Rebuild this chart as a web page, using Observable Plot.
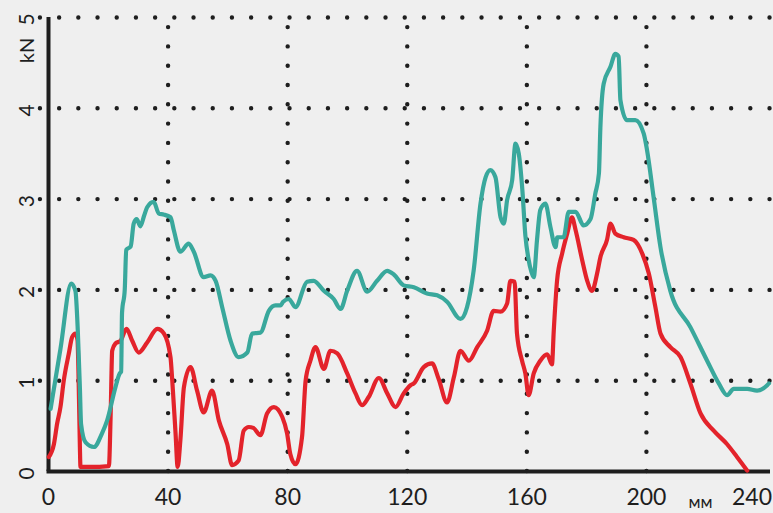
<!DOCTYPE html>
<html>
<head>
<meta charset="utf-8">
<script src="https://cdn.jsdelivr.net/npm/d3@7"></script>
<script src="https://cdn.jsdelivr.net/npm/@observablehq/plot@0.6"></script>
<style>
  html, body { margin: 0; padding: 0; background: #efefef; }
  #chart svg { display: block; }
</style>
</head>
<body>
<div id="chart"></div>
<script>
// distance (mm) and force (kN) for the two curves
const tealMm = [0.7,4,7.6,9,9.8,10.5,10.9,12.4,15.2,17.9,19.6,22.4,23.8,24.3,24.6,25.5,26,27.5,28.5,29.5,30.7,32,33,35.2,36.9,38.5,40.8,41.9,44.1,46.9,48.6,51.9,54.2,55.9,58.1,60.9,63.6,66.5,68.1,70.9,73.7,75.9,77.6,78.5,80.4,82.6,86.5,88.7,92.1,95.4,97.7,99.9,103.2,106.6,109.9,113.3,115.5,118.8,122.2,126.6,130,133.3,137.8,140,142.2,144.5,146.2,147.8,149.5,151.2,152.3,153.4,155.1,156.2,157.3,158.5,159.5,160.5,161.5,162.3,163.4,164.5,166.2,167.9,169.6,170.2,172.3,174,176.3,179,181.3,182.9,184.1,184.6,185.7,188,189.6,190.7,191.3,193.5,196.3,199.1,200.2,202.4,204.7,208,214.7,220.3,224.2,227,229.2,233.7,237,240.4,241];
const tealKN = [0.69,1.35,2.07,1.99,1.55,0.92,0.52,0.32,0.27,0.42,0.56,0.93,1.08,1.1,1.75,2.0,2.44,2.48,2.73,2.78,2.7,2.82,2.91,2.97,2.84,2.83,2.8,2.66,2.42,2.51,2.42,2.14,2.16,2.1,1.81,1.44,1.26,1.31,1.52,1.53,1.77,1.83,1.83,1.87,1.9,1.81,2.09,2.1,1.99,1.9,1.79,1.99,2.21,1.98,2.1,2.21,2.17,2.05,2.03,1.96,1.94,1.87,1.68,1.81,2.21,2.95,3.24,3.32,3.24,2.8,2.73,2.99,3.21,3.61,3.5,3.1,2.6,2.35,2.2,2.14,2.55,2.88,2.95,2.69,2.47,2.58,2.58,2.86,2.86,2.71,2.78,3.06,3.28,3.79,4.27,4.46,4.6,4.57,4.09,3.87,3.87,3.72,3.54,3.02,2.47,1.99,1.59,1.22,0.97,0.84,0.91,0.91,0.89,0.95,0.97];

const redMm = [0.1,1.8,2.9,4,5.1,6.8,7.9,9,9.7,10.2,10.5,10.7,14,20.2,20.8,21.3,22.4,24.1,26.1,28,30.2,33,36.4,38.6,40.8,41.4,42.5,43.2,44.1,45.3,47.5,49.7,51.9,54.7,57,59.8,61.4,63.6,65.3,67,68.5,70.9,73.1,75.4,78.2,79.8,80.9,82.6,84.8,86,87.6,89.3,92.1,94.3,96.6,99.9,102.7,104.9,107.1,110.5,113.3,116.1,118.8,121.1,122.2,125.5,128.3,130.5,133.3,135.6,137.8,140.6,143.4,146.7,148.9,151.2,153.4,154.5,155.9,156.7,158.4,159.5,160.6,162.3,164.5,166.8,168.4,169,170.1,171.8,173.5,175.1,176.3,178.5,180.2,181.8,183.5,184.6,186.8,188,189.6,192.4,195.7,198.6,200.8,203,204.7,208,211.4,214.7,218.1,222.5,227,230.3,233.7];
const redKN = [0.16,0.3,0.53,0.71,1.0,1.3,1.48,1.52,1.45,0.8,0.27,0.05,0.05,0.06,0.64,1.33,1.41,1.44,1.57,1.44,1.31,1.42,1.57,1.52,1.26,1.0,0.42,0.05,0.34,0.93,1.15,0.89,0.65,0.89,0.56,0.3,0.07,0.12,0.45,0.49,0.48,0.4,0.64,0.71,0.6,0.42,0.19,0.08,0.38,1.0,1.22,1.37,1.13,1.33,1.3,1.08,0.86,0.73,0.82,1.03,0.86,0.71,0.86,0.95,0.97,1.15,1.19,1.02,0.76,1.04,1.33,1.22,1.37,1.55,1.77,1.76,1.85,2.1,2.09,1.52,1.22,1.08,0.84,1.08,1.22,1.29,1.18,1.55,2.1,2.4,2.62,2.8,2.66,2.33,2.1,1.99,2.18,2.36,2.55,2.73,2.62,2.58,2.55,2.4,2.18,1.81,1.52,1.37,1.26,0.97,0.64,0.45,0.3,0.16,0.01];

const xTicks = [0, 40, 80, 120, 160, 200, 240];
const yTicks = [0, 1, 2, 3, 4, 5];
const xGrid = [40, 80, 120, 160, 200];
const yGrid = [1, 2, 3, 4, 5];
const xUnit = "мм";
const yUnit = "kN";

const teal = tealMm.map((x, i) => ({x, y: tealKN[i]}));
const red = redMm.map((x, i) => ({x, y: redKN[i]}));

const FONT = "Lato, 'Open Sans', sans-serif";
const INK = "#1e1e1e";

const chart = Plot.plot({
  width: 773,
  height: 513,
  marginLeft: 48,
  marginRight: 3,
  marginTop: 17,
  marginBottom: 42,
  style: {background: "#efefef", fontFamily: FONT, color: INK, overflow: "visible"},
  x: {domain: [0, 241.5], axis: null},
  y: {domain: [0, 5], axis: null},
  marks: [
    // dotted grid
    Plot.ruleY(yGrid, {y: d => d, x1: -2.7, x2: 241.5, stroke: INK, strokeWidth: 4.4, strokeDasharray: "0 19.2", strokeLinecap: "round"}),
    Plot.ruleX(xGrid, {x: d => d, y1: 0, y2: 5, stroke: INK, strokeWidth: 4.4, strokeDasharray: "0 19.3", strokeLinecap: "round"}),
    // axis lines
    Plot.ruleX([0], {y1: 0, y2: 5, stroke: INK, strokeWidth: 4}),
    Plot.ruleY([0], {x1: -0.5, x2: 241.5, stroke: INK, strokeWidth: 4}),
    // curves
    Plot.line(red, {x: "x", y: "y", curve: "monotone-x", stroke: "#e3232b", strokeWidth: 4.2, strokeLinejoin: "round", strokeLinecap: "round"}),
    Plot.line(teal, {x: "x", y: "y", curve: "monotone-x", stroke: "#39a89c", strokeWidth: 4.2, strokeLinejoin: "round", strokeLinecap: "round"}),
    // x tick labels
    Plot.text(xTicks.filter(d => d < 240), {x: d => d, frameAnchor: "bottom", textAnchor: "middle", lineAnchor: "middle", dy: 26, text: d => String(d), fontSize: 23, fill: INK}),
    Plot.text(xTicks.filter(d => d >= 240), {x: d => d, frameAnchor: "bottom", textAnchor: "end", lineAnchor: "middle", dy: 26, dx: 6, text: d => String(d), fontSize: 23, fill: INK}),
    Plot.text([xUnit], {frameAnchor: "bottom-right", textAnchor: "middle", lineAnchor: "middle", dx: -70, dy: 31, text: d => d, fontSize: 17, fill: INK}),
    // y tick labels (rotated)
    Plot.text(yTicks, {y: d => d, frameAnchor: "left", textAnchor: "middle", lineAnchor: "middle", dx: -21, dy: 2, rotate: -90, text: d => String(d), fontSize: 21, fill: INK}),
    Plot.text([yUnit], {frameAnchor: "top-left", textAnchor: "middle", lineAnchor: "middle", dx: -21, dy: 33, rotate: -90, text: d => d, fontSize: 20, fill: INK})
  ]
});
document.getElementById("chart").appendChild(chart);
</script>
</body>
</html>
